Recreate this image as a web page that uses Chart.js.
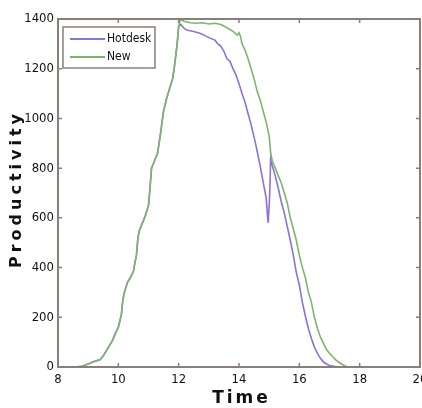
<!DOCTYPE html>
<html><head><meta charset="utf-8">
<script src="https://cdn.jsdelivr.net/npm/chart.js@4.4.1/dist/chart.umd.min.js"></script>
<style>html,body{margin:0;padding:0;background:#fff}#wrap{width:422px;height:408px;position:relative}#frame{position:absolute;box-sizing:border-box;border:2px solid #8a7f78;pointer-events:none;display:none}</style>
</head><body><div id="wrap"><canvas id="c" width="422" height="408"></canvas><div id="frame"></div></div>
<script>
const seriesNames = ["Hotdesk", "New"];
const xTicks = [8, 10, 12, 14, 16, 18, 20];
const yTicks = [0, 200, 400, 600, 800, 1000, 1200, 1400];
const axisTitles = { x: "Time", y: "Productivity" };

const rise = [[8.55,0],[8.8,3],[9.0,12],[9.2,22],[9.4,30],[9.5,45],[9.6,65],[9.7,85],[9.8,105],[9.9,135],[10.0,160],[10.1,210],[10.15,270],[10.2,300],[10.3,340],[10.4,360],[10.5,385],[10.55,420],[10.6,450],[10.65,520],[10.7,550],[10.8,580],[10.9,610],[11.0,650],[11.05,720],[11.1,800],[11.2,830],[11.3,860],[11.35,900],[11.4,940],[11.5,1030],[11.6,1080],[11.7,1120],[11.8,1160],[11.85,1200],[11.9,1250],[11.95,1300],[12.0,1370]];

const hotdeskTail = [[12.07,1378],[12.2,1360],[12.3,1355],[12.5,1350],[12.7,1343],[12.8,1338],[13.0,1325],[13.2,1315],[13.3,1300],[13.4,1290],[13.5,1270],[13.6,1240],[13.7,1230],[13.8,1200],[13.9,1175],[14.0,1140],[14.1,1100],[14.2,1065],[14.3,1020],[14.4,975],[14.5,925],[14.6,870],[14.7,810],[14.8,745],[14.9,680],[14.95,600],[14.97,580],[15.02,700],[15.05,850],[15.1,810],[15.2,770],[15.3,720],[15.4,665],[15.5,620],[15.6,565],[15.7,510],[15.8,450],[15.9,380],[16.0,330],[16.1,260],[16.2,205],[16.3,155],[16.4,115],[16.5,80],[16.6,55],[16.7,35],[16.8,20],[16.9,12],[17.0,6],[17.2,2],[17.4,0]];

const newTail = [[12.05,1398],[12.2,1390],[12.4,1385],[12.6,1383],[12.8,1385],[13.0,1380],[13.2,1383],[13.4,1378],[13.6,1365],[13.8,1350],[13.95,1335],[14.0,1345],[14.05,1330],[14.1,1300],[14.2,1275],[14.3,1240],[14.4,1200],[14.5,1160],[14.6,1110],[14.7,1075],[14.8,1030],[14.9,985],[15.0,930],[15.05,860],[15.1,830],[15.2,800],[15.3,770],[15.4,740],[15.5,700],[15.6,660],[15.7,600],[15.8,555],[15.9,510],[16.0,450],[16.1,400],[16.2,360],[16.3,300],[16.4,260],[16.5,200],[16.6,155],[16.7,120],[16.8,95],[16.9,70],[17.0,55],[17.1,42],[17.2,30],[17.3,20],[17.4,12],[17.5,5],[17.6,0]];

const hotdesk = rise.concat(hotdeskTail);
const newer = rise.concat(newTail);
const colors = ["#8a72d8", "#7db56a"];
const frameColor = "#8a7f78";
const tickFont = "'DejaVu Sans Condensed','Liberation Sans Narrow',Arial,sans-serif";

const toPts = a => a.map(p => ({x: p[0], y: p[1]}));

function spacedText(ctx, text, cx, cy, gap) {
  const chars = Array.from(text);
  const widths = chars.map(c => ctx.measureText(c).width);
  const total = widths.reduce((s, w) => s + w, 0) + gap * (chars.length - 1);
  let x = cx - total / 2;
  ctx.textAlign = "left";
  chars.forEach((c, i) => { ctx.fillText(c, x, cy); x += widths[i] + gap; });
}

const framePlugin = {
  id: 'frame',
  afterDraw(chart) {
    const ctx = chart.ctx;
    const a = chart.chartArea;
    const sx = chart.scales.x, sy = chart.scales.y;
    // DOM frame aligned to the chart area (fallback)
    const f = document.getElementById('frame');
    f.style.left = (a.left - 1) + 'px';
    f.style.top = (a.top - 1) + 'px';
    f.style.width = (a.width + 2) + 'px';
    f.style.height = (a.height + 2) + 'px';
    f.style.display = 'block';
    ctx.save();
    ctx.strokeStyle = frameColor;
    ctx.lineWidth = 2;
    ctx.strokeRect(a.left, a.top, a.width, a.height);
    ctx.lineWidth = 1.5;
    for (const v of xTicks) {
      const px = sx.getPixelForValue(v);
      ctx.beginPath();
      ctx.moveTo(px, a.bottom); ctx.lineTo(px, a.bottom - 4);
      ctx.moveTo(px, a.top); ctx.lineTo(px, a.top + 4);
      ctx.stroke();
    }
    for (const v of yTicks) {
      const py = sy.getPixelForValue(v);
      ctx.beginPath();
      ctx.moveTo(a.left, py); ctx.lineTo(a.left + 4, py);
      ctx.moveTo(a.right, py); ctx.lineTo(a.right - 4, py);
      ctx.stroke();
    }
    // legend
    const lx = a.left + 5, ly = a.top + 8, lw = 92, lh = 41;
    ctx.fillStyle = "#fff";
    ctx.fillRect(lx, ly, lw, lh);
    ctx.lineWidth = 1.5;
    ctx.strokeStyle = frameColor;
    ctx.strokeRect(lx, ly, lw, lh);
    ctx.font = "12px " + tickFont;
    ctx.textBaseline = "middle";
    ctx.textAlign = "left";
    seriesNames.forEach((n, i) => {
      const yy = ly + 12 + i * 18;
      ctx.strokeStyle = colors[i];
      ctx.lineWidth = 1.8;
      ctx.beginPath(); ctx.moveTo(lx + 7, yy); ctx.lineTo(lx + 42, yy); ctx.stroke();
      ctx.fillStyle = "#111";
      ctx.fillText(n, lx + 44, yy);
    });
    // axis titles
    ctx.fillStyle = "#111";
    ctx.textBaseline = "middle";
    ctx.font = "bold 17px 'DejaVu Sans',sans-serif";
    spacedText(ctx, axisTitles.x, (a.left + a.right) / 2 + 1, 399, 3);
    ctx.translate(17, 191);
    ctx.rotate(-Math.PI / 2);
    ctx.font = "bold 16px 'DejaVu Sans',sans-serif";
    spacedText(ctx, axisTitles.y, 0, 0, 4);
    ctx.restore();
  }
};

new Chart(document.getElementById('c'), {
  type: 'line',
  data: {
    datasets: [
      { label: seriesNames[0], data: toPts(hotdesk), borderColor: colors[0], borderWidth: 1.6, pointRadius: 0, tension: 0, order: 2 },
      { label: seriesNames[1], data: toPts(newer), borderColor: colors[1], borderWidth: 1.6, pointRadius: 0, tension: 0, order: 1 }
    ]
  },
  options: {
    responsive: false,
    animation: false,
    layout: { padding: { top: 19, right: 2, left: 0, bottom: 0 } },
    plugins: { legend: { display: false }, tooltip: { enabled: false } },
    scales: {
      x: {
        type: 'linear', min: 8, max: 20,
        afterBuildTicks: s => { s.ticks = xTicks.map(v => ({value: v})); },
        afterFit: s => { s.height = 41; s.paddingLeft = 0; s.paddingRight = 0; },
        grid: { display: false, drawTicks: false },
        border: { display: false },
        ticks: { padding: 5, color: "#111", font: { family: tickFont, size: 13 }, maxRotation: 0, callback: v => String(v) }
      },
      y: {
        type: 'linear', min: 0, max: 1400,
        afterBuildTicks: s => { s.ticks = yTicks.map(v => ({value: v})); },
        afterFit: s => { s.width = 58; s.paddingTop = 0; s.paddingBottom = 0; },
        grid: { display: false, drawTicks: false },
        border: { display: false },
        ticks: { padding: 4, color: "#111", font: { family: tickFont, size: 13 }, callback: v => String(v) }
      }
    }
  },
  plugins: [framePlugin]
});
</script></body></html>
